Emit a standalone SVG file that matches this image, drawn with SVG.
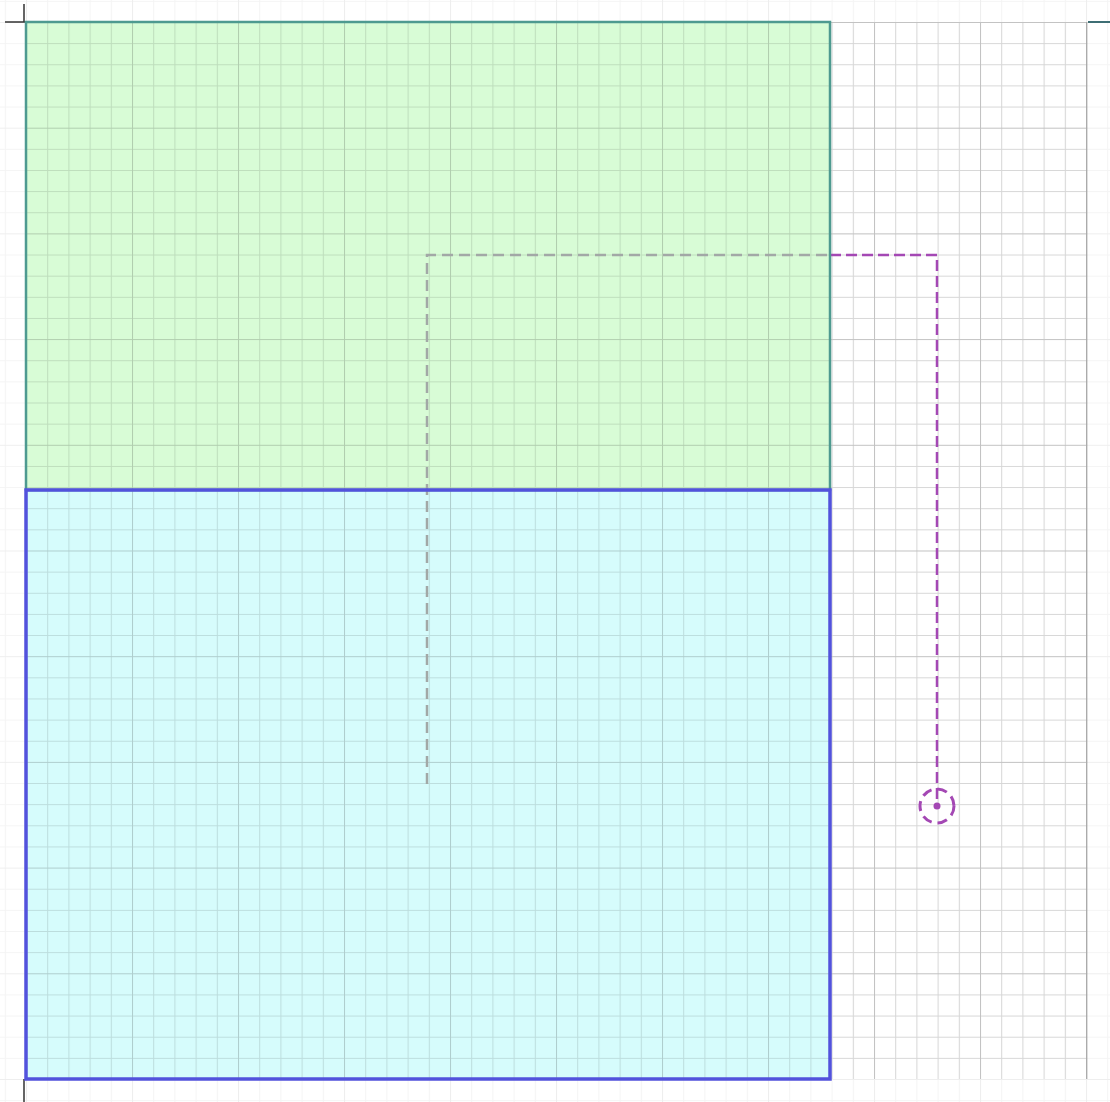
<svg xmlns="http://www.w3.org/2000/svg" width="1110" height="1102" viewBox="0 0 1110 1102">
  <style>
    .axis { stroke: #333; stroke-width: 1.5; fill: none; }
    .node-green-fill { fill: #d8fcd6; stroke: none; }
    .node-blue-fill { fill: #d6fcfc; stroke: none; }
    .conn-gray { stroke: #a2a8a6; stroke-width: 2.5; stroke-dasharray: 11 6; fill: none; }
    .conn-purple { stroke: #a448b4; stroke-width: 2.5; stroke-dasharray: 11 5; fill: none; }
    .target { stroke: #a448b4; stroke-width: 3; stroke-dasharray: 10 6; fill: none; }
  </style>
  <defs>
    <pattern id="minor" patternUnits="userSpaceOnUse" x="26" y="22" width="21.2" height="21.14">
      <path d="M0 0 V21.14 M0 0 H21.2" stroke="#000" stroke-opacity="0.12" stroke-width="2" fill="none"/>
    </pattern>
    <pattern id="major" patternUnits="userSpaceOnUse" x="26" y="22" width="106" height="105.7">
      <path d="M0 0 V105.7 M0 0 H106" stroke="#000" stroke-opacity="0.07" stroke-width="2" fill="none"/>
    </pattern>
  </defs>
  <rect x="0" y="0" width="1110" height="1102" fill="#ffffff"/>
  <!-- faint outer grid -->
  <rect x="0" y="0" width="1110" height="1102" fill="url(#minor)" opacity="0.35"/>
  <rect x="0" y="0" width="1110" height="1102" fill="url(#major)" opacity="0.35"/>

  <g id="node-green-fill"><rect class="node-green-fill" x="26" y="22" width="804" height="468"/></g>
  <g id="node-blue-fill"><rect class="node-blue-fill" x="26" y="490" width="804" height="589"/></g>

  <!-- main grid -->
  <rect x="26" y="22" width="1061" height="1057" fill="url(#minor)"/>
  <rect x="26" y="22" width="1061" height="1057" fill="url(#major)"/>
  <line x1="1087" y1="22" x2="1087" y2="1079" stroke="#000" stroke-opacity="0.12" stroke-width="2"/>

  <!-- axis marks -->
  <path class="axis" d="M24 4 V22 M5 22 H25 M24 1079 V1102"/>
  <path d="M1088 22 H1110" stroke="#3e6e74" stroke-width="2" fill="none"/>

  <g id="connectors">
    <path class="conn-gray" d="M427 784 V255 H830"/>
    <path class="conn-purple" d="M830 255 H937 V806"/>
  </g>

  <g id="node-green">
    <rect x="26" y="22" width="804" height="468" fill="none" stroke="#4e9a90" stroke-width="2.5"/>
  </g>
  <g id="node-blue">
    <rect x="26" y="490" width="804" height="589" fill="none" stroke="#5252dc" stroke-width="3.5"/>
  </g>

  <g id="node-target">
    <circle class="target" cx="937" cy="806" r="17"/>
    <circle cx="937" cy="806" r="3.5" fill="#a448b4"/>
  </g>
</svg>
